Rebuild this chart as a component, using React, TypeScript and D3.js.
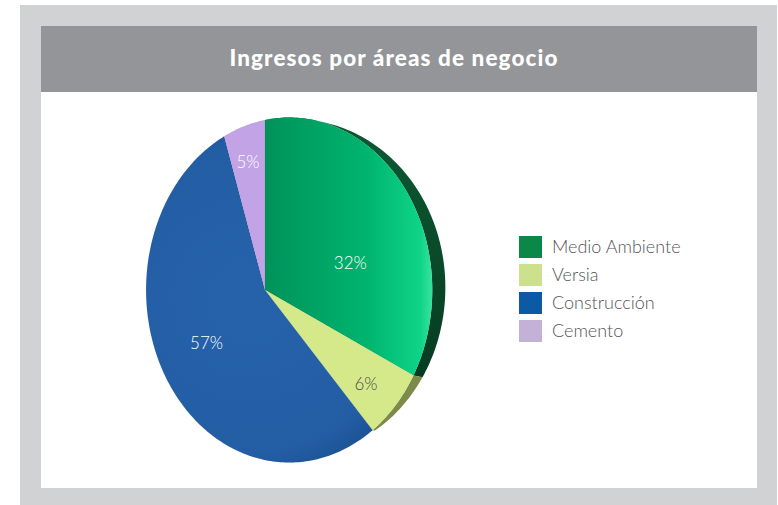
import React from 'react';
import * as d3 from 'd3';

const categories = ['Medio Ambiente', 'Versia', 'Construcción', 'Cemento'];
const shares = [32, 6, 57, 5];
const pctLabels = ['32%', '6%', '57%', '5%'];
const legendColors = ['#0b874a', '#cde08e', '#0c5aa5', '#c4b1d8'];
const faceFills = ['url(#gGreen)', '#d5e98b', 'url(#gBlue)', '#c1a3e6'];
const sideFills = ['url(#gGreenSide)', '#7d8b4a', null, null];
const labelColors = ['#ffffff', '#4a4a4a', '#ffffff', '#ffffff'];

const W = 778;
const H = 505;

// fake perspective: right side of the disc tilted towards the viewer
const cx = 265;
const cy = 290;
const kx = 139;
const ky = 170;
const persp = 0.169;
// thickness of the disc edge, visible on the right between 0 and sideEnd
const thickX = 14;
const thickY = 3;
const sideEnd = (140 * Math.PI) / 180;

// label placement inside each slice: radius fraction and angle nudge (deg)
const labelRadius = [0.58, 0.8, 0.55, 0.8];
const labelNudge = [16, 0, -4, 0];

const project = (a: number, r: number): [number, number] => {
  const u = r * Math.sin(a);
  const v = -r * Math.cos(a);
  const den = 1 - persp * u;
  return [cx + (kx * u) / den, cy + (ky * v) / den];
};

export default function App() {
  const arcs = d3.pie<number>().sort(null).value((d) => d)(shares);
  const line = d3.line().curve(d3.curveLinearClosed);

  const angles = (a0: number, a1: number) => {
    const n = Math.max(8, Math.ceil(((a1 - a0) * 180) / Math.PI));
    return d3.range(n + 1).map((i) => a0 + ((a1 - a0) * i) / n);
  };

  const slicePath = (s: d3.PieArcDatum<number>) => {
    const pts: [number, number][] = [project(0, 0), ...angles(s.startAngle, s.endAngle).map((a) => project(a, 1))];
    return line(pts) ?? '';
  };

  const sidePath = (s: d3.PieArcDatum<number>) => {
    const a1 = Math.min(s.endAngle, sideEnd);
    if (a1 <= s.startAngle) return '';
    const as = angles(s.startAngle, a1);
    const f = (a: number) => Math.pow(Math.max(0, Math.sin((Math.PI * a) / sideEnd)), 0.7);
    const outer = as.map((a) => project(a, 1));
    const shifted = as
      .map((a) => {
        const [x, y] = project(a, 1);
        return [x + thickX * f(a), y + thickY * f(a)] as [number, number];
      })
      .reverse();
    return line([...outer, ...shifted]) ?? '';
  };

  const legendY = d3
    .scaleBand<number>()
    .domain(d3.range(categories.length))
    .range([236, 236 + 28 * categories.length]);

  return (
    <div style={{ position: 'absolute', left: 0, top: 0 }}>
      <svg width={W} height={H} style={{ display: 'block' }}>
        <defs>
          <linearGradient id="gGreen" gradientUnits="userSpaceOnUse" x1="265" y1="0" x2="434" y2="0">
            <stop offset="0" stopColor="#00925a" />
            <stop offset="0.6" stopColor="#00b46e" />
            <stop offset="0.92" stopColor="#0fd488" />
            <stop offset="1" stopColor="#3ee6a0" />
          </linearGradient>
          <linearGradient id="gGreenSide" gradientUnits="userSpaceOnUse" x1="0" y1="120" x2="0" y2="400">
            <stop offset="0" stopColor="#0d5a33" />
            <stop offset="1" stopColor="#06391f" />
          </linearGradient>
          <radialGradient id="gBlue" gradientUnits="userSpaceOnUse" cx="250" cy="300" r="190">
            <stop offset="0" stopColor="#2662aa" />
            <stop offset="0.8" stopColor="#235ea5" />
            <stop offset="1" stopColor="#1b4f90" />
          </radialGradient>
        </defs>

        <rect x={20} y={5} width={757} height={500} fill="#d1d2d4" />
        <rect x={41} y={26} width={716} height={66} fill="#939598" />
        <rect x={41} y={92} width={716} height={396} fill="#ffffff" />

        <text
          x={394}
          y={66}
          textAnchor="middle"
          fill="#ffffff"
          fontFamily="Lato, 'DejaVu Sans', sans-serif"
          fontWeight={900}
          fontSize={22.5}
          letterSpacing={1.1}
        >
          Ingresos por áreas de negocio
        </text>

        {/* disc thickness */}
        <g>
          {arcs.map((s, i) =>
            sideFills[i] ? <path key={`side-${i}`} d={sidePath(s)} fill={sideFills[i] as string} /> : null
          )}
        </g>

        {/* faces */}
        <g>
          {arcs.map((s, i) => (
            <path key={`face-${i}`} d={slicePath(s)} fill={faceFills[i]} stroke="rgba(0,0,0,0.08)" strokeWidth={0.6} />
          ))}
        </g>

        {/* labels */}
        <g fontFamily="Lato, 'DejaVu Sans', sans-serif" fontWeight={300} fontSize={17}>
          {arcs.map((s, i) => {
            const a = (s.startAngle + s.endAngle) / 2 + (labelNudge[i] * Math.PI) / 180;
            const [x, y] = project(a, labelRadius[i]);
            return (
              <text key={`lab-${i}`} x={x} y={y + 4} dy="0.35em" textAnchor="middle" fill={labelColors[i]}>
                {pctLabels[i]}
              </text>
            );
          })}
        </g>

        {/* legend */}
        <g fontFamily="Lato, 'DejaVu Sans', sans-serif" fontWeight={300} fontSize={18} fill="#555555">
          {categories.map((c, i) => (
            <g key={c} transform={`translate(519, ${legendY(i)})`}>
              <rect x={0} y={0} width={23} height={22} fill={legendColors[i]} />
              <text x={33} y={11} dy="0.35em">
                {c}
              </text>
            </g>
          ))}
        </g>
      </svg>
    </div>
  );
}
